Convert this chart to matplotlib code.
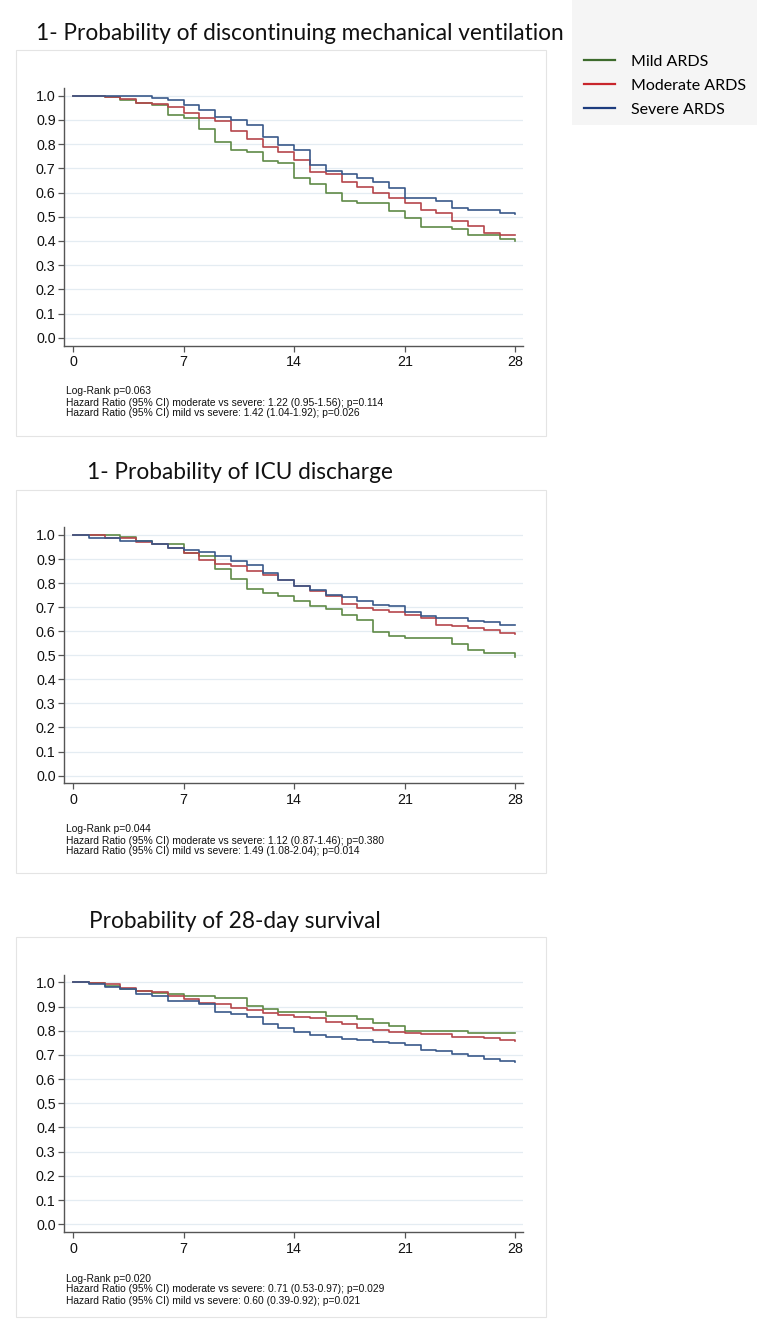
import matplotlib.pyplot as plt
from matplotlib.patches import Rectangle
from matplotlib.lines import Line2D
import numpy as np

# survival curves read per day (value on [d, d+1)), last entry = value at day 28
days = np.arange(0, 29)
groups = ['Mild ARDS', 'Moderate ARDS', 'Severe ARDS']

mv_mild = [1.0, 1.0, 0.993, 0.982, 0.968, 0.961, 0.92, 0.91, 0.862, 0.81, 0.775, 0.769, 0.73, 0.723,
           0.659, 0.634, 0.597, 0.566, 0.558, 0.558, 0.525, 0.493, 0.459, 0.459, 0.448, 0.423, 0.423, 0.41, 0.40]
mv_moderate = [1.0, 1.0, 0.995, 0.986, 0.972, 0.964, 0.955, 0.927, 0.906, 0.895, 0.855, 0.823, 0.79, 0.768,
               0.734, 0.686, 0.675, 0.645, 0.624, 0.6, 0.576, 0.558, 0.528, 0.517, 0.482, 0.462, 0.431, 0.426, 0.426]
mv_severe = [1.0, 1.0, 1.0, 1.0, 0.998, 0.989, 0.982, 0.961, 0.94, 0.912, 0.9, 0.878, 0.83, 0.798,
             0.776, 0.714, 0.689, 0.677, 0.661, 0.645, 0.62, 0.576, 0.576, 0.566, 0.535, 0.528, 0.528, 0.517, 0.511]

icu_mild = [1.0, 1.0, 1.0, 0.993, 0.977, 0.961, 0.961, 0.924, 0.913, 0.858, 0.817, 0.775, 0.761, 0.745,
            0.727, 0.703, 0.694, 0.669, 0.645, 0.596, 0.579, 0.57, 0.57, 0.57, 0.549, 0.524, 0.508, 0.508, 0.494]
icu_moderate = [1.0, 1.0, 0.989, 0.989, 0.97, 0.961, 0.945, 0.924, 0.897, 0.88, 0.872, 0.852, 0.834, 0.811,
                0.786, 0.766, 0.748, 0.714, 0.697, 0.69, 0.679, 0.669, 0.655, 0.628, 0.622, 0.615, 0.604, 0.593, 0.59]
icu_severe = [1.0, 0.989, 0.989, 0.975, 0.973, 0.961, 0.948, 0.938, 0.928, 0.913, 0.894, 0.876, 0.841, 0.811,
              0.789, 0.77, 0.752, 0.742, 0.727, 0.71, 0.703, 0.679, 0.665, 0.655, 0.655, 0.644, 0.637, 0.628, 0.628]

surv_mild = [1.0, 0.996, 0.986, 0.973, 0.964, 0.958, 0.951, 0.945, 0.945, 0.937, 0.937, 0.902, 0.888, 0.879,
             0.879, 0.879, 0.862, 0.862, 0.847, 0.83, 0.819, 0.799, 0.799, 0.799, 0.799, 0.789, 0.789, 0.789, 0.789]
surv_moderate = [1.0, 0.998, 0.992, 0.975, 0.964, 0.959, 0.945, 0.93, 0.916, 0.91, 0.893, 0.884, 0.875, 0.865,
                 0.858, 0.851, 0.837, 0.828, 0.812, 0.805, 0.796, 0.792, 0.786, 0.786, 0.772, 0.772, 0.768, 0.762, 0.758]
surv_severe = [1.0, 0.993, 0.982, 0.973, 0.952, 0.945, 0.923, 0.923, 0.91, 0.879, 0.868, 0.858, 0.828, 0.812,
               0.796, 0.782, 0.772, 0.765, 0.76, 0.755, 0.748, 0.74, 0.722, 0.715, 0.705, 0.695, 0.685, 0.675, 0.672]

titles = ['1- Probability of discontinuing mechanical ventilation',
          '1- Probability of ICU discharge',
          'Probability of 28-day survival']
notes = [['Log-Rank p=0.063',
          'Hazard Ratio (95% CI) moderate vs severe: 1.22 (0.95-1.56); p=0.114',
          'Hazard Ratio (95% CI) mild vs severe: 1.42 (1.04-1.92); p=0.026'],
         ['Log-Rank p=0.044',
          'Hazard Ratio (95% CI) moderate vs severe: 1.12 (0.87-1.46); p=0.380',
          'Hazard Ratio (95% CI) mild vs severe: 1.49 (1.08-2.04); p=0.014'],
         ['Log-Rank p=0.020',
          'Hazard Ratio (95% CI) moderate vs severe: 0.71 (0.53-0.97); p=0.029',
          'Hazard Ratio (95% CI) mild vs severe: 0.60 (0.39-0.92); p=0.021']]
panels = [(mv_mild, mv_moderate, mv_severe),
          (icu_mild, icu_moderate, icu_severe),
          (surv_mild, surv_moderate, surv_severe)]

line_colors = ['#5f8a47', '#b5464b', '#39598a']
legend_colors = ['#3d6b2c', '#c8252c', '#1d3c7e']

W, H = 757, 1329
plt.rcParams['font.family'] = ['Liberation Sans', 'DejaVu Sans']
fig = plt.figure(figsize=(W / 100, H / 100), dpi=100)


def fx(x):
    return x / W


def fy(y):
    return 1 - y / H


# pixel layout of each panel: box top, box bottom, axes top, axes bottom, title y, title x, notes y
layout = [(50, 436, 88, 345.5, 33, 300, 391.5),
          (490, 873, 527.3, 783.3, 472, 240, 829.5),
          (937, 1317, 974.6, 1232, 921, 235, 1278.5)]

for i, (box_t, box_b, ax_t, ax_b, ty, tx, ny) in enumerate(layout):
    fig.patches.append(Rectangle((fx(16), fy(box_b)), fx(546 - 16), (box_b - box_t) / H,
                                 transform=fig.transFigure, facecolor='white',
                                 edgecolor='#e4e4e4', linewidth=0.8, zorder=-1))
    fig.text(fx(tx), fy(ty), titles[i], family=['Lato', 'DejaVu Sans'], fontsize=16.3,
             ha='center', va='center', color='#111111')

    ax = fig.add_axes([fx(64), fy(ax_b), fx(523 - 64), (ax_b - ax_t) / H], zorder=2)
    ax.patch.set_alpha(0)
    for vals, c in zip(panels[i], line_colors):
        ax.step(days, vals, where='post', color=c, linewidth=1.2)
    ax.set_xlim(-0.57, 28.48)
    ax.set_ylim(-0.032, 1.032)
    ax.set_xticks([0, 7, 14, 21, 28])
    ax.set_yticks(np.round(np.arange(0, 1.01, 0.1), 1))
    ax.set_yticklabels(['%.1f' % v for v in np.arange(0, 1.01, 0.1)])
    ax.grid(axis='y', color='#e4ecf2', linewidth=0.9)
    ax.set_axisbelow(True)
    for s in ['top', 'right']:
        ax.spines[s].set_visible(False)
    for s in ['left', 'bottom']:
        ax.spines[s].set_color('#555555')
        ax.spines[s].set_linewidth(1.0)
    ax.tick_params(axis='both', length=4, width=0.9, color='#555555', labelsize=10.3,
                   labelcolor='#111111', pad=2)
    ax.tick_params(axis='x', pad=3)

    for k, line in enumerate(notes[i]):
        fig.text(fx(66), fy(ny + k * 11), line, fontsize=7.4, ha='left', va='center',
                 color='#111111')

# legend panel at top right
fig.patches.append(Rectangle((fx(572), fy(125)), fx(W - 572), 125 / H,
                             transform=fig.transFigure, facecolor='#f5f5f5',
                             edgecolor='none', zorder=-1))
handles = [Line2D([0], [0], color=c, linewidth=1.6) for c in legend_colors]
fig.legend(handles, groups, loc='upper left', bbox_to_anchor=(fx(578), fy(48)),
           frameon=False, prop={'family': ['Lato', 'DejaVu Sans'], 'size': 11.5},
           handlelength=1.9, handletextpad=1.0, labelspacing=0.62, borderaxespad=0)

fig.savefig('out.png', dpi=100, facecolor='white')
